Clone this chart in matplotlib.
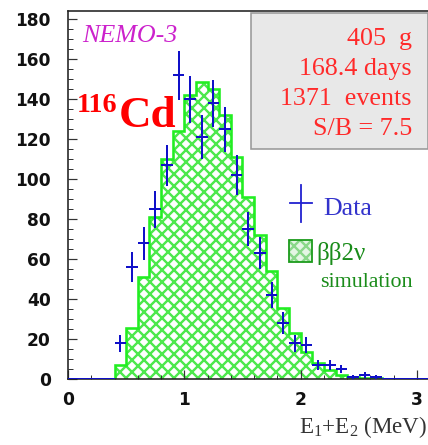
import numpy as np
import matplotlib
matplotlib.use("Agg")
import matplotlib.pyplot as plt
from matplotlib.patches import Rectangle
from matplotlib.lines import Line2D

# ---------------- data ----------------
sim_edges = [0.4, 0.5, 0.6, 0.7, 0.8, 0.9, 1.0, 1.1, 1.2, 1.3, 1.4, 1.5, 1.6, 1.7,
             1.8, 1.9, 2.0, 2.1, 2.2, 2.3, 2.4, 2.5, 2.6, 2.7, 2.8, 2.9, 3.0, 3.1]
sim_counts = [7, 25.5, 51, 81, 110, 124, 142, 148.5, 145, 132, 111, 91, 72, 54,
              35.6, 23, 13.7, 7.8, 4.5, 2, 0.8, 0.5, 0.3, 0.2, 0.1, 0.1, 0.05]

data_x = [0.05, 0.15, 0.25, 0.35, 0.45, 0.55, 0.65, 0.75, 0.85, 0.95, 1.05, 1.15,
          1.25, 1.35, 1.45, 1.55, 1.65, 1.75, 1.85, 1.95, 2.05, 2.15, 2.25, 2.35,
          2.45, 2.55, 2.65, 2.75, 2.85, 2.95, 3.05]
data_y = [0, 0, 0, 0, 18, 56, 68, 85, 107, 152, 140, 121,
          138, 125, 102, 75, 63, 42, 28, 18, 17, 7, 7, 5,
          1, 2, 1, 0, 0, 0, 0]

info_lines = ["405  g", "168.4 days", "1371  events", "S/B = 7.5"]
y_ticks = [0, 20, 40, 60, 80, 100, 120, 140, 160, 180]
x_ticks = [0, 1, 2, 3]

# ---------------- figure ----------------
W, H = 428, 445
DPI = 72
fig = plt.figure(figsize=(W / DPI, H / DPI), dpi=DPI)
AX_L, AX_R, AX_T, AX_B = 68, 428, 11, 379
ax = fig.add_axes([AX_L / W, 1 - AX_B / H, (AX_R - AX_L) / W, (AX_B - AX_T) / H])

def axf(px, py):
    return ((px - AX_L) / (AX_R - AX_L), (AX_B - py) / (AX_B - AX_T))

plt.rcParams['hatch.linewidth'] = 2.4
green_line = '#22ee22'
green_hatch = '#4de84d'

# simulation histogram
ax.stairs(sim_counts, sim_edges, fill=True, facecolor='white', edgecolor=green_hatch,
          hatch='xx', linewidth=0, zorder=1)
ax.stairs(sim_counts, sim_edges, fill=False, edgecolor=green_line, linewidth=2.6, zorder=2)

# data
yerr = np.sqrt(np.array(data_y, dtype=float))
ax.errorbar(data_x, data_y, xerr=0.05, yerr=yerr, fmt='none', ecolor='#1010c8',
            elinewidth=2.0, capsize=0, zorder=4)

ax.set_xlim(0, 3.095)
ax.set_ylim(0, 184.2)
ax.set_xticks(x_ticks)
ax.set_yticks(y_ticks)
ax.set_xticks(np.arange(0, 3.1, 0.2), minor=True)
ax.set_yticks(np.arange(0, 185, 5), minor=True)
ax.tick_params(axis='both', which='both', direction='in', colors='#333333',
               labelcolor='#111111')
ax.tick_params(axis='y', which='major', length=9, width=1.2, pad=17)
ax.tick_params(axis='y', which='minor', length=4.5, width=1.0)
ax.tick_params(axis='x', which='major', length=9, width=1.2, pad=12)
ax.tick_params(axis='x', which='minor', length=4.5, width=1.0)
for lab in ax.get_xticklabels() + ax.get_yticklabels():
    lab.set_fontfamily('DejaVu Sans')
    lab.set_fontweight('bold')
    lab.set_fontsize(17)

for s in ['left', 'bottom', 'top']:
    ax.spines[s].set_linewidth(1.6)
    ax.spines[s].set_color('#222222')
ax.spines['right'].set_visible(False)

serif = 'Liberation Serif'

# NEMO-3
x0, y0 = axf(82, 41.7)
ax.text(x0, y0, 'NEMO-3', transform=ax.transAxes, family=serif, style='italic',
        fontsize=26, color='#cc22cc', ha='left', va='baseline')

# 116Cd
x0, y0 = axf(77, 112)
ax.text(x0, y0, '116', transform=ax.transAxes, family=serif, weight='bold',
        fontsize=28, color='#ff0000', ha='left', va='baseline')
x0, y0 = axf(119, 127)
ax.text(x0, y0, 'Cd', transform=ax.transAxes, family=serif, weight='bold',
        fontsize=45, color='#ff0000', ha='left', va='baseline')

# info box
bx0, by0 = axf(250.7, 149)
bx1, by1 = axf(427.5, 13.3)
ax.add_patch(Rectangle((bx0, by0), bx1 - bx0, by1 - by0, transform=ax.transAxes,
                       facecolor='#e8e8e8', edgecolor='#999999', linewidth=1.6,
                       zorder=5, clip_on=False))
for i, line in enumerate(info_lines):
    x0, y0 = axf(412, 45 + 30 * i)
    ax.text(x0, y0, line, transform=ax.transAxes, family=serif, fontsize=26,
            color='#ff2a2a', ha='right', va='baseline', zorder=6)

# legend: Data
cx, cy = axf(300.8, 203)
hx0, _ = axf(290, 203)
hx1, _ = axf(311.7, 203)
_, vy0 = axf(300.8, 221.7)
_, vy1 = axf(300.8, 185)
ax.add_line(Line2D([hx0, hx1], [cy, cy], transform=ax.transAxes, color='#2020d0', lw=1.8))
ax.add_line(Line2D([cx, cx], [vy0, vy1], transform=ax.transAxes, color='#2020d0', lw=1.8))
x0, y0 = axf(323, 215)
ax.text(x0, y0, 'Data', transform=ax.transAxes, family=serif, fontsize=26,
        color='#3333cc', ha='left', va='baseline')

# legend: simulation
gx0, gy0 = axf(288.5, 261.7)
gx1, gy1 = axf(311.5, 240)
ax.add_patch(Rectangle((gx0, gy0), gx1 - gx0, gy1 - gy0, transform=ax.transAxes,
                       facecolor='#e4f6e4', edgecolor='#8ad88a', hatch='xx',
                       linewidth=0, zorder=5))
ax.add_patch(Rectangle((gx0, gy0), gx1 - gx0, gy1 - gy0, transform=ax.transAxes,
                       facecolor='none', edgecolor='#1a9a1a', linewidth=1.8, zorder=6))
x0, y0 = axf(316, 260)
ax.text(x0, y0, 'ββ2ν', transform=ax.transAxes, family=serif, fontsize=25,
        color='#1a8c1a', ha='left', va='baseline')
x0, y0 = axf(320, 286.7)
ax.text(x0, y0, 'simulation', transform=ax.transAxes, family=serif, fontsize=22,
        color='#1a8c1a', ha='left', va='baseline')

# x label
plt.rcParams['mathtext.fontset'] = 'custom'
plt.rcParams['mathtext.rm'] = serif
plt.rcParams['mathtext.it'] = serif + ':italic'
x0, y0 = axf(427, 433)
ax.text(x0, y0, r'E$_{\mathrm{1}}$+E$_{\mathrm{2}}$ (MeV)', transform=ax.transAxes,
        family=serif, fontsize=23, color='#333333', ha='right', va='baseline',
        clip_on=False)

fig.savefig('out.png', dpi=DPI)
